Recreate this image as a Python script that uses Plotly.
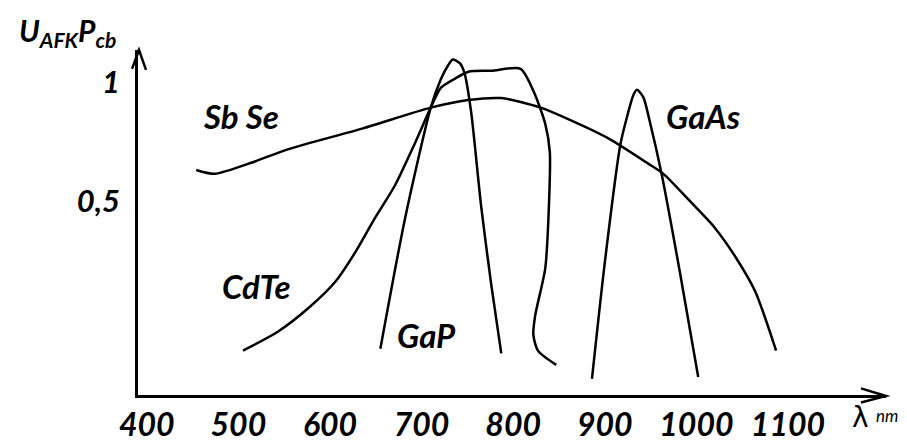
import plotly.graph_objects as go

# ---- data (wavelength in nm, relative response) ----
sbse_x = [454, 474, 518, 554, 636, 710, 751, 787, 808, 830, 860, 903, 947, 964, 994, 1020, 1042, 1064, 1087]
sbse_y = [0.631, 0.615, 0.667, 0.718, 0.806, 0.893, 0.925, 0.933, 0.917, 0.893, 0.845, 0.766, 0.659, 0.615, 0.496, 0.389, 0.270, 0.123, -0.127]

cdte_x = [505, 543, 579, 606, 627, 649, 671, 693, 710, 721, 737, 751, 776, 808, 822, 835, 840, 839, 835, 824, 822, 827, 847]
cdte_y = [-0.127, -0.048, 0.060, 0.163, 0.282, 0.429, 0.567, 0.746, 0.893, 0.976, 1.016, 1.044, 1.048, 1.056, 0.964, 0.825, 0.706, 0.480, 0.218, 0.020, -0.060, -0.127, -0.187]

gap_x = [655, 682, 710, 721, 729, 734, 742, 747, 754, 765, 776, 787]
gap_y = [-0.119, 0.429, 0.893, 1.012, 1.071, 1.095, 1.079, 1.036, 0.877, 0.480, 0.151, -0.139]

gaas_x = [886, 900, 917, 925, 931, 935, 942, 949, 962, 982, 1002]
gaas_y = [-0.246, 0.242, 0.738, 0.865, 0.944, 0.968, 0.937, 0.837, 0.615, 0.202, -0.238]

x_ticks = [400, 500, 600, 700, 800, 900, 1000, 1100]
y_ticks = [0.5, 1]
y_ticktext = ["0,5", "1"]

labels = ["Sb Se", "CdTe", "GaP", "GaAs"]
label_x = [503, 519, 705, 1007]
label_y = [0.86, 0.143, -0.063, 0.86]

FONT = "Lato"

fig = go.Figure()
for xs, ys, nm in [(sbse_x, sbse_y, "Sb Se"), (cdte_x, cdte_y, "CdTe"),
                   (gap_x, gap_y, "GaP"), (gaas_x, gaas_y, "GaAs")]:
    fig.add_trace(go.Scatter(x=xs, y=ys, mode="lines", name=nm,
                             line=dict(color="black", width=2.5, shape="spline", smoothing=0.7),
                             hoverinfo="skip"))

for t, lx, ly in zip(labels, label_x, label_y):
    fig.add_annotation(x=lx, y=ly, text=t, showarrow=False, xanchor="center", yanchor="middle",
                       font=dict(family=FONT, size=33, color="black", weight="bold", style="italic"))

W, H = 748.0, 365.0
def px(xp, yp):
    return (xp - 130) / W, (407 - yp) / H

# axis title (top left) and unit label
tx, ty = px(9, 0)
fig.add_annotation(xref="paper", yref="paper", x=tx, y=ty, xanchor="left", yanchor="top",
                   text="U<sub>AFK</sub>P<sub>cb</sub>", showarrow=False,
                   font=dict(family=FONT, size=30, color="black", weight="bold", style="italic"))
lx_, ly_ = px(852, 431)
fig.add_annotation(xref="paper", yref="paper", x=lx_, y=ly_, xanchor="center", yanchor="middle",
                   text="λ", showarrow=False,
                   font=dict(family="DejaVu Sans", size=28, color="black"))
nx_, ny_ = px(879, 429)
fig.add_annotation(xref="paper", yref="paper", x=nx_, y=ny_, xanchor="center", yanchor="middle",
                   text="nm", showarrow=False,
                   font=dict(family=FONT, size=17, color="black", style="italic"))

# axis arrowheads (open chevrons)
a1, a2, a3 = px(853, 400), px(878, 408), px(853, 415)
fig.add_shape(type="path", xref="paper", yref="paper",
              path=f"M {a1[0]},{a1[1]} L {a2[0]},{a2[1]} L {a3[0]},{a3[1]}",
              line=dict(color="black", width=2.5))
b1, b2, b3 = px(124, 62), px(131, 42), px(138, 63)
fig.add_shape(type="path", xref="paper", yref="paper",
              path=f"M {b1[0]},{b1[1]} L {b2[0]},{b2[1]} L {b3[0]},{b3[1]}",
              line=dict(color="black", width=2.5))

fig.update_layout(
    width=907, height=447,
    margin=dict(l=130, r=29, t=42, b=40),
    paper_bgcolor="white", plot_bgcolor="white",
    showlegend=False,
    xaxis=dict(range=[390.4, 1207.0], showgrid=False, zeroline=False,
               showline=True, linecolor="black", linewidth=2.5,
               tickmode="array", tickvals=x_ticks, ticks="",
               tickfont=dict(family=FONT, size=32, color="black", weight="bold", style="italic")),
    yaxis=dict(range=[-0.3135, 1.135], showgrid=False, zeroline=False,
               showline=True, linecolor="black", linewidth=2.5,
               tickmode="array", tickvals=y_ticks, ticktext=y_ticktext, ticks="",
               ticklabelstandoff=9,
               tickfont=dict(family=FONT, size=31, color="black", weight="bold", style="italic")),
)

fig.write_html("out.html")
